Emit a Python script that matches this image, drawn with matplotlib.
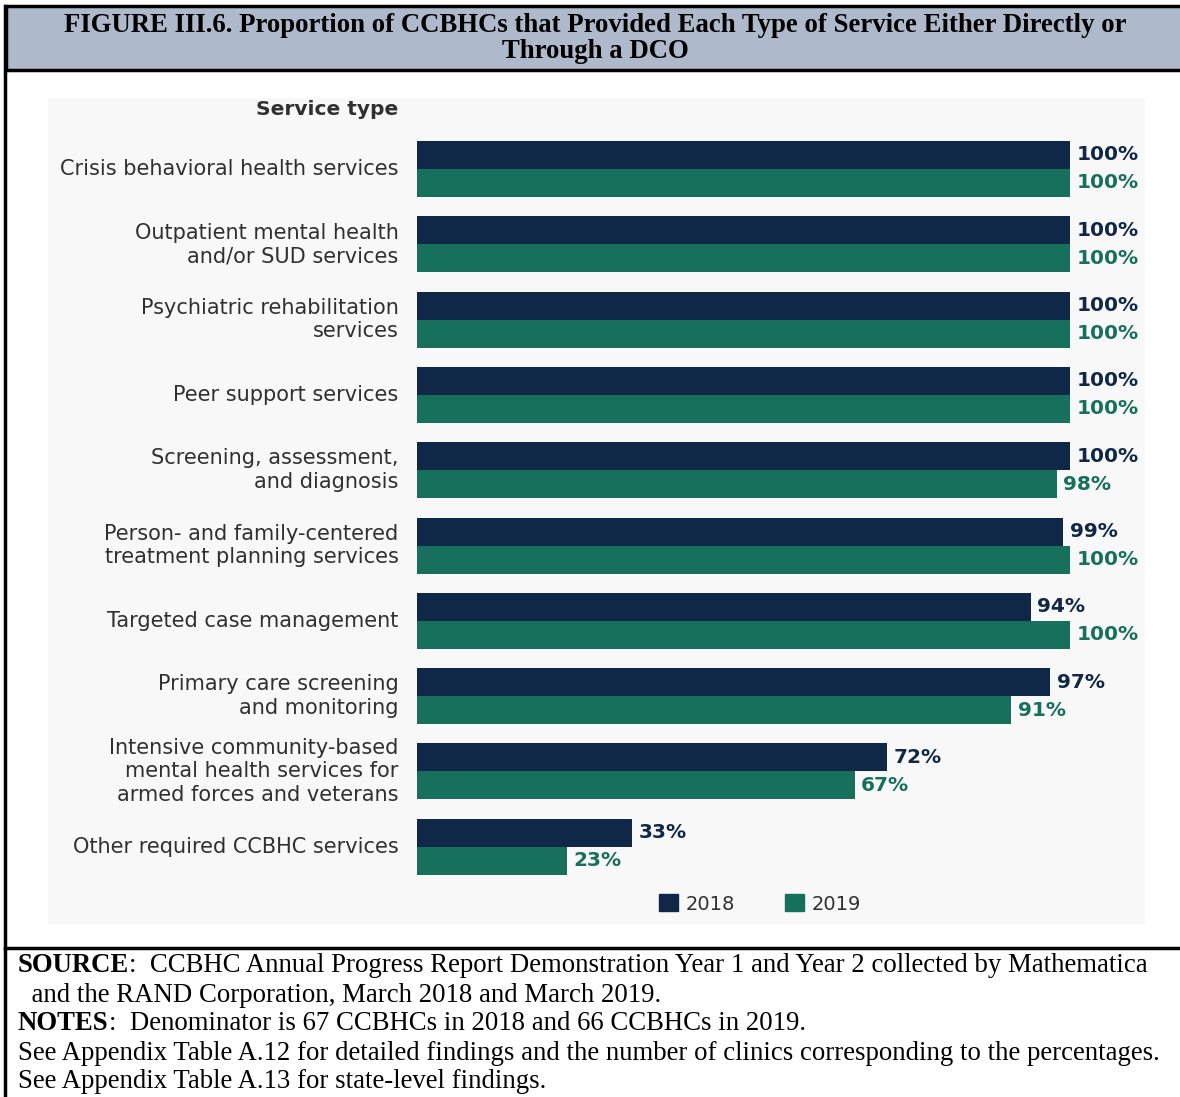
import matplotlib
matplotlib.use("Agg")
import matplotlib.pyplot as plt
from matplotlib.patches import Rectangle, Patch
from matplotlib.lines import Line2D

services = [
    "Crisis behavioral health services",
    "Outpatient mental health\nand/or SUD services",
    "Psychiatric rehabilitation\nservices",
    "Peer support services",
    "Screening, assessment,\nand diagnosis",
    "Person- and family-centered\ntreatment planning services",
    "Targeted case management",
    "Primary care screening\nand monitoring",
    "Intensive community-based\nmental health services for\narmed forces and veterans",
    "Other required CCBHC services",
]
pct_2018 = [100, 100, 100, 100, 100, 99, 94, 97, 72, 33]
pct_2019 = [100, 100, 100, 100, 98, 100, 100, 91, 67, 23]
years = ["2018", "2019"]

title_lines = ["FIGURE III.6. Proportion of CCBHCs that Provided Each Type of Service Either Directly or",
               "Through a DCO"]
notes = [
    ("SOURCE", ":  CCBHC Annual Progress Report Demonstration Year 1 and Year 2 collected by Mathematica"),
    ("", "  and the RAND Corporation, March 2018 and March 2019."),
    ("NOTES", ":  Denominator is 67 CCBHCs in 2018 and 66 CCBHCs in 2019."),
    ("", "See Appendix Table A.12 for detailed findings and the number of clinics corresponding to the percentages."),
    ("", "See Appendix Table A.13 for state-level findings."),
]

NAVY = "#0f2847"
TEAL = "#17705c"
LABEL = "#303030"
SANS = ["DejaVu Sans"]
SERIF = ["Liberation Serif", "DejaVu Serif"]

W, H = 1180, 1097
fig = plt.figure(figsize=(W / 100, H / 100), dpi=100)
fig.patch.set_facecolor("white")


def fx(px):
    return px / W


def fy(py):
    return 1 - py / H


# frame: title box, left rule, divider above notes
fig.patches.append(Rectangle((fx(6), fy(70)), fx(W + 10) - fx(6), fy(6) - fy(70),
                             transform=fig.transFigure, facecolor="#aebacb",
                             edgecolor="black", lw=2.5, zorder=-2))
fig.lines.append(Line2D([fx(5), fx(5)], [fy(6), 0], transform=fig.transFigure,
                        color="black", lw=2.5))
fig.lines.append(Line2D([fx(5), 1], [fy(948), fy(948)], transform=fig.transFigure,
                        color="black", lw=2.5))
# faint backdrop of the pasted chart image
fig.patches.append(Rectangle((fx(48), fy(925)), fx(1145) - fx(48), fy(98) - fy(925),
                             transform=fig.transFigure, facecolor="#f8f8f8",
                             edgecolor="none", zorder=-2))

for k, line in enumerate(title_lines):
    fig.text(fx(595), fy(26 + k * 25), line, ha="center", va="center", fontsize=19.3,
             fontweight="bold", family=SERIF)

# bars
row_px = 75.3
top_px = 169 - 0.6 * row_px
bot_px = 169 + 9.6 * row_px
ax = fig.add_axes([fx(417), fy(bot_px), fx(1070) - fx(417), fy(top_px) - fy(bot_px)])
ax.set_xlim(0, 100)
ax.set_ylim(9.6, -0.6)
ax.axis("off")

bh = 28 / row_px
y = list(range(len(services)))
ax.barh([i - bh / 2 for i in y], pct_2018, height=bh, color=NAVY, label=years[0])
ax.barh([i + bh / 2 for i in y], pct_2019, height=bh, color=TEAL, label=years[1])

for i in y:
    ax.text(pct_2018[i] + 1.0, i - bh / 2, f"{pct_2018[i]}%", ha="left", va="center",
            fontsize=14.5, fontweight="bold", color=NAVY, family=SANS)
    ax.text(pct_2019[i] + 1.0, i + bh / 2, f"{pct_2019[i]}%", ha="left", va="center",
            fontsize=14.5, fontweight="bold", color=TEAL, family=SANS)
    ax.text(-2.8, i, services[i], ha="right", va="center", fontsize=15,
            color=LABEL, family=SANS, linespacing=1.22)

ax.text(-2.8, -0.6 - (top_px - 110) / row_px, "Service type", ha="right", va="center",
        fontsize=14.5, fontweight="bold", color=LABEL, family=SANS)

leg = fig.legend(handles=[Patch(color=NAVY, label=years[0]), Patch(color=TEAL, label=years[1])],
                 loc="center", bbox_to_anchor=(fx(760), fy(904)), ncol=2, frameon=False,
                 handlelength=0.95, handleheight=0.95, handletextpad=0.4, columnspacing=2.6,
                 prop={"family": SANS, "size": 14})
for t in leg.get_texts():
    t.set_color(LABEL)

# notes: bold lead word followed by regular text
renderer = fig.canvas.get_renderer()
for k, (lead, rest) in enumerate(notes):
    ypos = fy(966 + k * 29)
    x0 = fx(18)
    if lead:
        t = fig.text(x0, ypos, lead, ha="left", va="center", fontsize=19.3,
                     fontweight="bold", family=SERIF)
        bb = t.get_window_extent(renderer)
        x0 = bb.x1 / W
    fig.text(x0, ypos, rest, ha="left", va="center", fontsize=19.3, family=SERIF)

fig.savefig("out.png", dpi=100)
